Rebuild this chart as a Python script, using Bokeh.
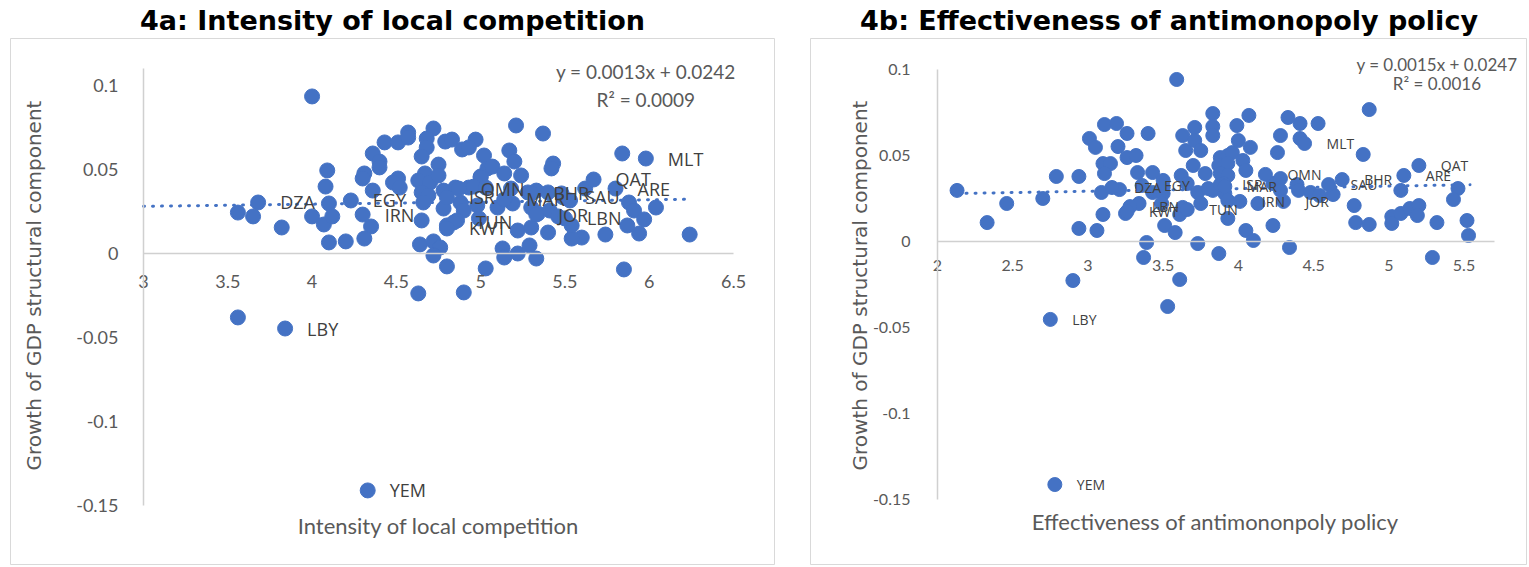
import math
from bokeh.plotting import figure
from bokeh.models import Range1d, LinearAxis, FixedTicker, NumeralTickFormatter, Label
from bokeh.layouts import row
from bokeh.core.properties import value
from bokeh.embed import file_html
from bokeh.resources import INLINE

BLUE = "#4472C4"
GREY_TXT = "#595959"
LAB_TXT = "#404040"
AXIS_LINE = "#d0d0d0"
BOX_LINE = "#d9d9d9"

# ---------------- Panel 4a: Intensity of local competition ----------------
a_title = "4a: Intensity of local competition"
a_xlabel = "Intensity of local competition"
a_x = [4.00, 3.56, 3.65, 3.82, 3.56,
       4.09, 4.08, 4.10, 4.00, 4.07, 4.12, 4.10, 4.20,
       4.31, 4.30, 4.36, 4.35, 4.31, 4.36, 4.43, 4.40, 4.40,
       4.51, 4.57, 4.57, 4.72, 4.68, 4.68, 4.65, 4.79, 4.83, 4.97, 4.89, 4.93, 5.02,
       4.75, 4.67, 4.51, 4.48, 4.52, 4.63, 4.70, 4.75, 4.65, 4.69, 4.78, 4.85, 4.93, 5.00, 5.04,
       4.66, 4.78, 4.88, 4.90, 4.98, 4.65, 4.80, 4.86, 4.99,
       4.64, 4.72, 4.76, 4.72, 4.80, 4.63, 4.90, 5.03,
       5.21, 5.37, 5.17, 5.20, 5.43, 5.42, 5.84,
       5.07, 5.14, 5.24, 5.00, 4.96, 5.03, 5.18, 5.28, 5.33, 5.40, 5.48, 5.53, 5.62,
       5.88, 5.91, 5.97, 6.04, 5.87, 5.94, 5.74, 5.60, 5.54, 5.54, 6.24,
       5.10, 5.19, 5.30, 5.34, 5.41, 5.46, 5.22, 5.30, 5.40,
       5.13, 5.14, 5.22, 5.29, 5.33, 5.85]
a_y = [0.0936, 0.0244, 0.0221, 0.0155, -0.0381,
       0.0495, 0.0399, 0.0298, 0.0221, 0.0173, 0.0221, 0.0066, 0.0072,
       0.0477, 0.0447, 0.0375, 0.0161, 0.0089, 0.0596, 0.0662, 0.0548, 0.0513,
       0.0662, 0.0721, 0.0691, 0.0745, 0.0685, 0.0632, 0.0578, 0.0667, 0.0679, 0.0679, 0.0620, 0.0632, 0.0584,
       0.0530, 0.0477, 0.0447, 0.0423, 0.0393, 0.0435, 0.0423, 0.0465, 0.0364, 0.0346, 0.0375, 0.0393, 0.0393, 0.0459, 0.0507,
       0.0304, 0.0268, 0.0304, 0.0256, 0.0286, 0.0197, 0.0167, 0.0197, 0.0209,
       0.0054, 0.0072, 0.0036, -0.0012, -0.0077, -0.0238, -0.0232, -0.0089,
       0.0763, 0.0715, 0.0614, 0.0548, 0.0536, 0.0507, 0.0596,
       0.0518, 0.0477, 0.0465, 0.0453, 0.0399, 0.0393, 0.0387, 0.0364, 0.0375, 0.0364, 0.0358, 0.0316, 0.0387,
       0.0304, 0.0256, 0.0203, 0.0274, 0.0167, 0.0119, 0.0113, 0.0095, 0.0089, 0.0167, 0.0113,
       0.0274, 0.0298, 0.0274, 0.0238, 0.0256, 0.0221, 0.0137, 0.0155, 0.0125,
       0.0030, -0.0024, 0.0000, 0.0048, -0.0030, -0.0095]
a_codes = ["DZA", "LBY", "YEM", "EGY", "IRN", "ISR", "OMN", "TUN", "KWT",
           "MAR", "BHR", "JOR", "SAU", "LBN", "QAT", "ARE", "MLT"]
a_code_x = [3.68, 3.84, 4.33, 4.23, 4.30, 4.80, 4.87, 4.84, 4.80,
            5.14, 5.30, 5.33, 5.49, 5.50, 5.67, 5.80, 5.98]
a_code_y = [0.0304, -0.0447, -0.1412, 0.0316, 0.0232, 0.0334, 0.0387, 0.0185, 0.0149,
            0.0322, 0.0358, 0.0232, 0.0334, 0.0209, 0.0441, 0.0387, 0.0566]
a_slope, a_intercept, a_r2 = 0.0013, 0.0242, 0.0009
a_trend_x = [3.0, 6.24]
a_xticks = [3, 3.5, 4, 4.5, 5, 5.5, 6, 6.5]
a_xbounds = (3, 6.5)
a_ybounds = (-0.15, 0.11)

# ---------------- Panel 4b: Effectiveness of antimonopoly policy ----------------
b_title = "4b: Effectiveness of antimonopoly policy"
b_xlabel = "Effectiveness of antimononpoly policy"
b_x = [2.13, 2.33, 2.46, 2.70, 2.79, 2.94, 2.94, 3.06, 2.90,
       3.01, 3.05, 3.11, 3.19, 3.26, 3.40, 3.20, 3.26, 3.32,
       3.10, 3.15, 3.11, 3.33, 3.43, 3.09, 3.21, 3.10, 3.25, 3.34,
       3.43, 3.50, 3.50, 3.51, 3.58, 3.39, 3.37, 3.61, 3.53,
       3.59, 3.63, 3.65, 3.62, 3.63, 3.61, 3.50, 3.49, 3.66,
       3.71, 3.71, 3.75, 3.70, 3.73, 3.78, 3.75, 3.73, 3.87,
       3.83, 3.83, 3.83, 3.88, 3.87, 3.93, 3.96, 3.93, 3.88, 3.93, 3.90, 3.83, 3.80, 3.91, 3.93,
       3.99, 4.07, 4.00, 4.08, 4.03, 4.05, 4.23, 4.13, 3.93, 4.05, 4.10, 4.23,
       4.26, 4.28, 4.87, 4.33, 4.41, 4.53, 4.41, 4.83,
       4.28, 4.28, 4.39, 4.40, 4.48, 4.54, 4.63, 4.77, 4.78, 4.87,
       5.08, 5.02, 5.02, 5.08, 5.14, 5.20, 5.19, 5.32, 5.29,
       5.46, 5.43, 5.52, 5.53, 4.34]
b_y = [0.0297, 0.0110, 0.0221, 0.0250, 0.0378, 0.0378, 0.0076, 0.0064, -0.0227,
       0.0599, 0.0547, 0.0680, 0.0686, 0.0628, 0.0628, 0.0552, 0.0488, 0.0500,
       0.0453, 0.0453, 0.0395, 0.0401, 0.0401, 0.0285, 0.0302, 0.0157, 0.0163, 0.0221,
       0.0285, 0.0355, 0.0279, 0.0093, 0.0052, -0.0006, -0.0093, -0.0221, -0.0378,
       0.0942, 0.0616, 0.0529, 0.0384, 0.0198, 0.0157, 0.0314, 0.0221, 0.0337,
       0.0663, 0.0587, 0.0529, 0.0442, 0.0285, 0.0395, 0.0221, -0.0012, -0.0070,
       0.0744, 0.0669, 0.0616, 0.0488, 0.0442, 0.0500, 0.0517, 0.0453, 0.0395, 0.0384, 0.0337, 0.0297, 0.0308, 0.0279, 0.0238,
       0.0674, 0.0733, 0.0587, 0.0547, 0.0471, 0.0413, 0.0337, 0.0221, 0.0134, 0.0064, 0.0006, 0.0093,
       0.0517, 0.0616, 0.0767, 0.0721, 0.0686, 0.0686, 0.0599, 0.0506,
       0.0366, 0.0297, 0.0331, 0.0297, 0.0285, 0.0267, 0.0273, 0.0209, 0.0110, 0.0099,
       0.0297, 0.0145, 0.0105, 0.0163, 0.0192, 0.0209, 0.0151, 0.0110, -0.0093,
       0.0308, 0.0244, 0.0122, 0.0035, -0.0035]
b_codes = ["LBY", "YEM", "DZA", "EGY", "LBN", "KWT", "TUN", "ISR", "MAR",
           "IRN", "OMN", "JOR", "MLT", "SAU", "BHR", "ARE", "QAT"]
b_code_x = [2.75, 2.78, 3.16, 3.36, 3.28, 3.26, 3.66, 3.88, 3.91,
            4.01, 4.18, 4.30, 4.44, 4.60, 4.69, 5.10, 5.20]
b_code_y = [-0.0453, -0.1413, 0.0314, 0.0326, 0.0203, 0.0174, 0.0186, 0.0331, 0.0320,
            0.0233, 0.0390, 0.0233, 0.0570, 0.0331, 0.0360, 0.0384, 0.0442]
b_slope, b_intercept, b_r2 = 0.0015, 0.0247, 0.0016
b_trend_x = [2.13, 5.54]
b_xticks = [2, 2.5, 3, 3.5, 4, 4.5, 5, 5.5]
b_xbounds = (2, 5.7)
b_ybounds = (-0.15, 0.10)

y_ticks = [-0.15, -0.1, -0.05, 0, 0.05, 0.1]
y_label = "Growth of GDP structural component"

FIG_H = 565


def chart(width, borders, title, xr, yr, xbounds, ybounds, xticks,
          xlabel, xs, ys, codes, cx, cy, slope, intercept, r2, trend_x,
          eq_pos, ylab_pos, xlab_pos, sz):
    p = figure(width=width, height=FIG_H, x_range=Range1d(*xr), y_range=Range1d(*yr),
               output_backend="svg", toolbar_location=None,
               x_axis_location=None, y_axis_location=None,
               min_border_left=borders[0], min_border_right=borders[1],
               min_border_top=38, min_border_bottom=0)
    p.outline_line_color = BOX_LINE
    p.outline_line_width = 1
    for g in p.grid:
        g.visible = False

    p.title.text = title
    p.title.align = "center"
    p.title.standoff = 5
    p.title.text_font = "DejaVu Sans"
    p.title.text_font_style = "bold"
    p.title.text_font_size = "27px"
    p.title.text_color = "#000000"

    yax = LinearAxis(fixed_location=xbounds[0], bounds=ybounds,
                     ticker=FixedTicker(ticks=y_ticks),
                     formatter=NumeralTickFormatter(format="0.[00]"))
    xax = LinearAxis(fixed_location=0, bounds=xbounds,
                     ticker=FixedTicker(ticks=xticks),
                     formatter=NumeralTickFormatter(format="0.[0]"))
    for ax in (yax, xax):
        ax.axis_line_color = AXIS_LINE
        ax.axis_line_width = 1.5
        ax.major_tick_line_color = None
        ax.minor_tick_line_color = None
        ax.major_label_text_font = "Lato"
        ax.major_label_text_font_size = sz["tick"]
        ax.major_label_text_color = GREY_TXT
    yax.major_label_standoff = sz["ystand"]
    xax.major_label_standoff = sz["xstand"]
    p.add_layout(yax, "left")
    p.add_layout(xax, "below")

    # axis titles
    p.add_layout(Label(x=ylab_pos[0], y=ylab_pos[1], text=y_label, angle=math.pi / 2,
                       text_align="center", text_baseline="middle",
                       text_font="DejaVu Sans", text_font_size="20px",
                       text_color=GREY_TXT))
    p.add_layout(Label(x=xlab_pos[0], y=xlab_pos[1], text=xlabel,
                       text_align="center", text_baseline="middle",
                       text_font="Lato", text_font_size="22px", text_color=GREY_TXT))

    # linear trend line (dotted)
    tx = list(trend_x)
    ty = [slope * v + intercept for v in tx]
    p.line(tx, ty, line_color=BLUE, line_width=3, line_dash="1 8", line_cap="round")

    # points and country labels
    p.scatter(xs, ys, size=sz["dot"], color=BLUE, line_color=BLUE)
    p.scatter(cx, cy, size=sz["dot"], color=BLUE, line_color=BLUE)
    p.text(cx, cy, text=codes, x_offset=22, text_align="left", text_baseline="middle",
           text_font=value("Open Sans"), text_font_size=sz["code"], text_color=LAB_TXT)

    eq1 = "y = %.4fx + %.4f" % (slope, intercept)
    eq2 = "R² = %.4f" % r2
    for txt, yy in ((eq1, eq_pos[1]), (eq2, eq_pos[2])):
        p.add_layout(Label(x=eq_pos[0], y=yy, text=txt, text_align="center",
                           text_baseline="middle", text_font="Lato",
                           text_font_size=sz["eq"], text_color=GREY_TXT))
    return p


# left: frame (chart box) spans x 10..774, y 38..565 ; 3->143px, 6.5->733px ; 0->253px, 0.05 per 83.9px
pa = chart(792, (10, 18), a_title,
           (2.2110, 6.7432), (-0.18594, 0.12813), a_xbounds, a_ybounds, a_xticks,
           a_xlabel, a_x, a_y, a_codes, a_code_x, a_code_y,
           a_slope, a_intercept, a_r2, a_trend_x,
           (5.98, 0.1085, 0.0918), (2.3475, -0.0191), (4.75, -0.1621),
           {"tick": "18px", "ystand": 19, "xstand": 16, "dot": 15, "code": "18px", "eq": "19px"})

# right: frame (chart box) spans x 810..1527, y 38..565 ; 2->937px, 5.5->1463px ; 0->241px, 0.05 per 86px
pb = chart(735, (18, 0), b_title,
           (1.1558, 5.9221), (-0.18837, 0.11802), b_xbounds, b_ybounds, b_xticks,
           b_xlabel, b_x, b_y, b_codes, b_code_x, b_code_y,
           b_slope, b_intercept, b_r2, b_trend_x,
           (5.32, 0.1030, 0.0919), (1.488, -0.0256), (3.848, -0.1628),
           {"tick": "16px", "ystand": 21, "xstand": 13, "dot": 14, "code": "14px", "eq": "17px"})

layout = row(pa, pb)

open("out.html", "w").write(file_html(layout, INLINE))
